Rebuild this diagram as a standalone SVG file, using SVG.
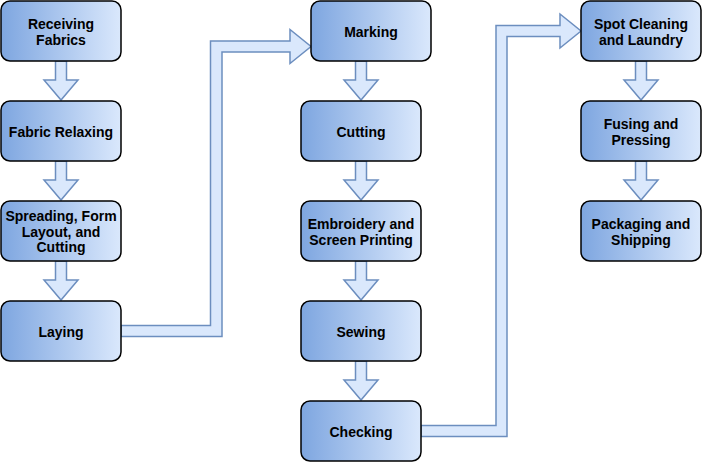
<svg xmlns="http://www.w3.org/2000/svg" xmlns:xlink="http://www.w3.org/1999/xlink" width="702" height="462" viewBox="0 0 702 462">
<defs>
<linearGradient id="g" x1="0" y1="0" x2="1" y2="0">
<stop offset="0" stop-color="#7EA6E0"/>
<stop offset="1" stop-color="#DAE8FC"/>
</linearGradient>
<path id="down" d="M-5.5,0 V19 H-17 L0,39 L17,19 H5.5 V0 Z"/>
<style>
.box{fill:url(#g);stroke:#000;stroke-width:1.5}
.arr{fill:#dae8fc;stroke:#6c8ebf;stroke-width:1.5;stroke-linejoin:miter}
text{font-family:"Liberation Sans",Arial,sans-serif;font-weight:bold;font-size:14px;fill:#000;text-anchor:middle}
</style>
</defs>
<rect width="702" height="462" fill="#fff"/>
<g id="connectors">
<use href="#down" class="arr" x="61" y="61"/>
<use href="#down" class="arr" x="61" y="161"/>
<use href="#down" class="arr" x="61" y="261"/>
<use href="#down" class="arr" x="361" y="61"/>
<use href="#down" class="arr" x="361" y="161"/>
<use href="#down" class="arr" x="361" y="261"/>
<use href="#down" class="arr" x="361" y="361"/>
<use href="#down" class="arr" x="641" y="61"/>
<use href="#down" class="arr" x="641" y="161"/>
<path class="arr" d="M121,325.5 H210.5 V41 H290 V29.5 L311,46.5 L290,63.5 V52 H222 V336.5 H121 Z"/>
<path class="arr" d="M421,425.5 H496 V25.5 H560 V14 L581,31 L560,48 V36.5 H507 V436.5 H421 Z"/>
</g>
<g id="receiving"><rect class="box" x="1" y="1" width="120" height="60" rx="9"/><text x="61" y="29">Receiving</text><text x="61" y="44.5">Fabrics</text></g>
<g id="relaxing"><rect class="box" x="1" y="101" width="120" height="60" rx="9"/><text x="61" y="136.5">Fabric Relaxing</text></g>
<g id="spreading"><rect class="box" x="1" y="201" width="120" height="60" rx="9"/><text x="61" y="221">Spreading, Form</text><text x="61" y="236.5">Layout, and</text><text x="61" y="252">Cutting</text></g>
<g id="laying"><rect class="box" x="1" y="301" width="120" height="60" rx="9"/><text x="61" y="336.5">Laying</text></g>
<g id="marking"><rect class="box" x="311" y="1" width="120" height="60" rx="9"/><text x="371" y="36.5">Marking</text></g>
<g id="cutting"><rect class="box" x="301" y="101" width="120" height="60" rx="9"/><text x="361" y="136.5">Cutting</text></g>
<g id="embroidery"><rect class="box" x="301" y="201" width="120" height="60" rx="9"/><text x="361" y="229">Embroidery and</text><text x="361" y="244.5">Screen Printing</text></g>
<g id="sewing"><rect class="box" x="301" y="301" width="120" height="60" rx="9"/><text x="361" y="336.5">Sewing</text></g>
<g id="checking"><rect class="box" x="301" y="401" width="120" height="60" rx="9"/><text x="361" y="436.5">Checking</text></g>
<g id="spot"><rect class="box" x="581" y="1" width="120" height="60" rx="9"/><text x="641" y="29">Spot Cleaning</text><text x="641" y="44.5">and Laundry</text></g>
<g id="fusing"><rect class="box" x="581" y="101" width="120" height="60" rx="9"/><text x="641" y="129">Fusing and</text><text x="641" y="144.5">Pressing</text></g>
<g id="packaging"><rect class="box" x="581" y="201" width="120" height="60" rx="9"/><text x="641" y="229">Packaging and</text><text x="641" y="244.5">Shipping</text></g>
</svg>
